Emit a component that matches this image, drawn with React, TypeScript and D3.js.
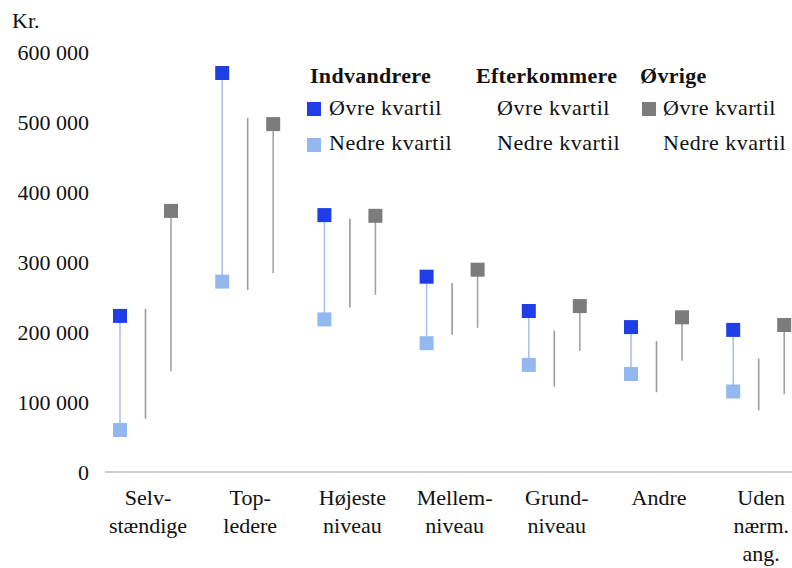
import React from "react";
import * as d3 from "d3";

const categories: string[][] = [
  ["Selv-", "stændige"],
  ["Top-", "ledere"],
  ["Højeste", "niveau"],
  ["Mellem-", "niveau"],
  ["Grund-", "niveau"],
  ["Andre"],
  ["Uden", "nærm.", "ang."],
];
const categoryKeys = categories.map((c) => c.join(" "));

const series = ["Indvandrere", "Efterkommere", "Øvrige"];

const indvandrereOevre = [223000, 570000, 367000, 279000, 230000, 207000, 203000];
const indvandrereNedre = [60000, 272000, 218000, 184000, 153000, 140000, 115000];
const efterkommereOevre = [243000, 516000, 372000, 280000, 212000, 197000, 172000];
const efterkommereNedre = [66000, 250000, 225000, 186000, 112000, 104000, 78000];
const oevrigeOevre = [373000, 497000, 366000, 289000, 237000, 221000, 210000];
const oevrigeNedre = [134000, 274000, 243000, 196000, 163000, 149000, 101000];

const yTicks = [0, 100000, 200000, 300000, 400000, 500000, 600000];

const W = 792;
const H = 568;
const FONT = "'Liberation Serif', 'Times New Roman', serif";

const styles = [
  { line: "#a9c2ef", upper: "#1f3ee6", lower: "#93b8f0" },
  { line: "#9a9a9a", upper: "#ffffff", lower: "#ffffff" },
  { line: "#a3a3a3", upper: "#7c7c7c", lower: "#ffffff" },
];

const uppers = [indvandrereOevre, efterkommereOevre, oevrigeOevre];
const lowers = [indvandrereNedre, efterkommereNedre, oevrigeNedre];

const fmt = (v: number) => d3.format(",")(v).replace(/,/g, " ");

export default function App() {
  const x = d3.scaleBand<string>().domain(categoryKeys).range([95.9, 811.3]).padding(0);
  const inner = d3.scalePoint<string>().domain(series).range([-27, 24]);
  const y = d3.scaleLinear().domain([0, 600000]).range([472, 52]);
  const cx = (i: number, s: string) => (x(categoryKeys[i]) as number) + x.bandwidth() / 2 + (inner(s) as number);
  const M = 14;

  return (
    <svg width={W} height={H} style={{ position: "absolute", left: 0, top: 0, background: "#fff" }} fontFamily={FONT}>
      <text x={12} y={28} fontSize={22} fill="#111">Kr.</text>
      {yTicks.map((t) => (
        <text key={t} x={89} y={y(t)} dy="0.35em" textAnchor="end" fontSize={22} fill="#111">
          {fmt(t)}
        </text>
      ))}
      <line x1={105} x2={792} y1={y(0)} y2={y(0)} stroke="#bdbdbd" strokeWidth={1.5} />

      {series.map((s, si) =>
        categoryKeys.map((_, i) => (
          <line
            key={`l-${s}-${i}`}
            x1={cx(i, s)}
            x2={cx(i, s)}
            y1={y(uppers[si][i])}
            y2={y(lowers[si][i])}
            stroke={styles[si].line}
            strokeWidth={1.6}
          />
        ))
      )}
      {series.map((s, si) =>
        categoryKeys.map((_, i) => (
          <g key={`m-${s}-${i}`}>
            <rect
              x={cx(i, s) - M / 2}
              y={y(uppers[si][i]) - M / 2}
              width={M}
              height={M}
              fill={styles[si].upper}
            />
            <rect
              x={cx(i, s) - M / 2}
              y={y(lowers[si][i]) - M / 2}
              width={M}
              height={M}
              fill={styles[si].lower}
            />
          </g>
        ))
      )}

      {categories.map((lines, i) => (
        <text key={`c-${i}`} textAnchor="middle" fontSize={22} fill="#111">
          {lines.map((ln, k) => (
            <tspan key={k} x={(x(categoryKeys[i]) as number) + x.bandwidth() / 2 + 1} y={505 + k * 28}>
              {ln}
            </tspan>
          ))}
        </text>
      ))}

      {/* Legend */}
      {[
        { hx: 310, sx: 307, tx: 329 },
        { hx: 476, sx: 474, tx: 497 },
        { hx: 640, sx: 642, tx: 663 },
      ].map((col, si) => (
        <g key={`lg-${si}`}>
          <text x={col.hx} y={83} fontSize={22} fontWeight="bold" fill="#111" letterSpacing={0.3}>
            {series[si]}
          </text>
          <rect x={col.sx} y={102} width={M} height={M} fill={styles[si].upper} />
          <text x={col.tx} y={115} fontSize={22} fill="#111" letterSpacing={0.5}>
            Øvre kvartil
          </text>
          <rect x={col.sx} y={138} width={M} height={M} fill={styles[si].lower} />
          <text x={col.tx} y={150} fontSize={22} fill="#111" letterSpacing={0.5}>
            Nedre kvartil
          </text>
        </g>
      ))}
    </svg>
  );
}
